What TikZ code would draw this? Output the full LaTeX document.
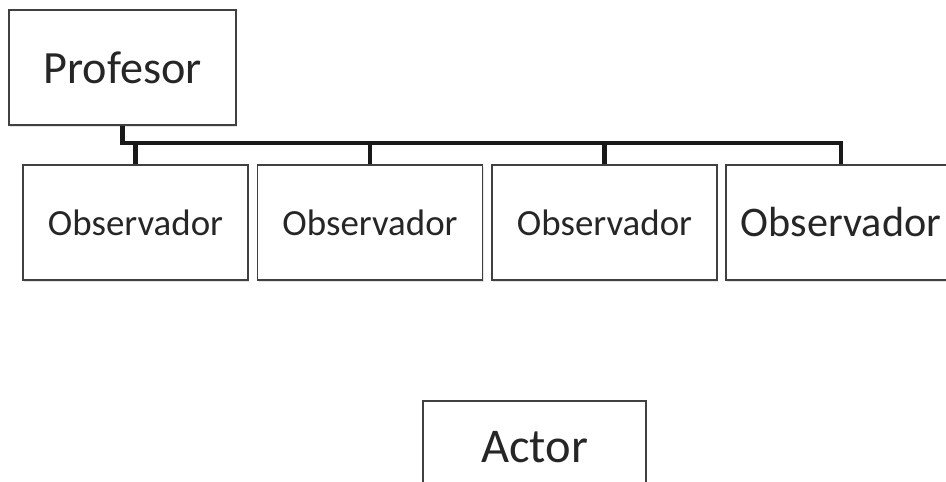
\documentclass[tikz,border=0pt]{standalone}
\usepackage{fontspec}
\setmainfont{Carlito}
\usepackage{tikz}
\usetikzlibrary{shadows}

\begin{document}
\begin{tikzpicture}[x=0.02cm, y=-0.02cm,
    box/.style={rectangle, draw=black!75, line width=0.8pt, fill=white, minimum width=4.5cm, minimum height=2.3cm, text=black!85, font=\fontsize{21}{25}\selectfont,
        drop shadow={shadow xshift=0.8pt, shadow yshift=-1pt, opacity=0.25, fill=black!40}},
    link/.style={line width=2.3pt, black!90}]

    \useasboundingbox (0,0) rectangle (946,482);
    \clip (0,0) rectangle (946,482);

    \node[box, minimum width=4.54cm, font=\fontsize{26.3}{30}\selectfont] (P) at (122.5,67.5) {Profesor};
    \node[box] (O1) at (135.5,222.5) {Observador};
    \node[box] (O2) at (370,222.5) {Observador};
    \node[box] (O3) at (604.5,222.5) {Observador};
    \node[box, minimum width=4.6cm, font=\fontsize{24}{28}\selectfont] (O4) at (841,222.5) {Observador};
    \node[box, minimum width=4.46cm, minimum height=1.84cm, font=\fontsize{27.6}{32}\selectfont] (A) at (534.5,447) {Actor};

    \coordinate (bus) at (0,143);
    \draw[link] (P.south) -- (P.south |- bus) -| (O4.north);
    \draw[link] (O1.north) -- (O1.north |- bus);
    \draw[link] (O2.north) -- (O2.north |- bus);
    \draw[link] (O3.north) -- (O3.north |- bus);
\end{tikzpicture}
\end{document}
